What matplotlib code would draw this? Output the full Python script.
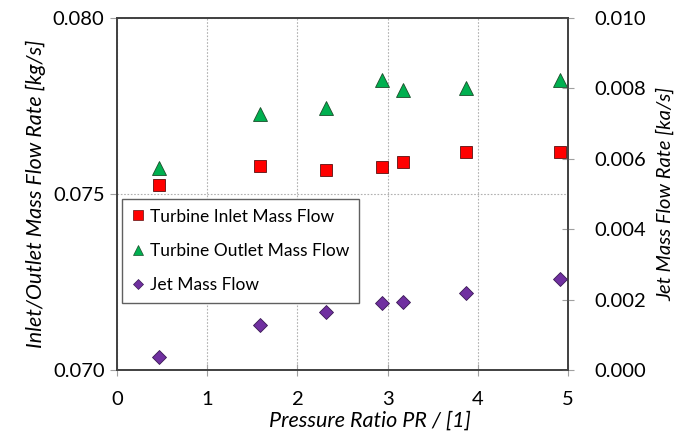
import matplotlib
matplotlib.use("Agg")
import matplotlib.pyplot as plt
from matplotlib.lines import Line2D

plt.rcParams['font.family'] = ['Lato', 'DejaVu Sans']

pr = [0.47, 1.59, 2.32, 2.94, 3.17, 3.87, 4.91]
inlet = [0.07526, 0.07580, 0.07568, 0.07577, 0.07591, 0.07619, 0.07619]
outlet = [0.07574, 0.07727, 0.07744, 0.07824, 0.07795, 0.07801, 0.07824]
jet = [0.00037, 0.00128, 0.00165, 0.00190, 0.00193, 0.00219, 0.00259]

labels = ["Turbine Inlet Mass Flow", "Turbine Outlet Mass Flow", "Jet Mass Flow"]
c_in, c_out, c_jet = "#FF0000", "#00B050", "#7030A0"

fig = plt.figure(figsize=(6.78, 4.34), dpi=100)
ax = fig.add_axes([117/678, 64/434, 451/678, 352/434])
ax2 = ax.twinx()

ax.plot(pr, inlet, linestyle='none', marker='s', markersize=8.5, markerfacecolor=c_in,
        markeredgecolor='#5a1010', markeredgewidth=0.6, zorder=3)
ax.plot(pr, outlet, linestyle='none', marker='^', markersize=9.5, markerfacecolor=c_out,
        markeredgecolor='#1a4d2a', markeredgewidth=0.6, zorder=3)
ax2.plot(pr, jet, linestyle='none', marker='D', markersize=7, markerfacecolor=c_jet,
         markeredgecolor='#3a1a55', markeredgewidth=0.6, zorder=3)

ax.set_xlim(0, 5)
ax.set_ylim(0.070, 0.080)
ax2.set_ylim(0.0, 0.010)
ax.set_xticks([0, 1, 2, 3, 4, 5])
ax.set_yticks([0.070, 0.075, 0.080])
ax.set_yticklabels(["0.070", "0.075", "0.080"])
ax2.set_yticks([0.0, 0.002, 0.004, 0.006, 0.008, 0.010])
ax2.set_yticklabels(["0.000", "0.002", "0.004", "0.006", "0.008", "0.010"])

ax.grid(True, color='#b0b0b0', linestyle=(0, (1.5, 1.5)), linewidth=0.8)
ax.set_axisbelow(True)

for a in (ax, ax2):
    for s in a.spines.values():
        s.set_color('#404040')
        s.set_linewidth(1.2)

ax.tick_params(axis='x', direction='inout', length=8, color='#a0a0a0', pad=11, labelsize=14.5)
ax.tick_params(axis='y', direction='out', length=5, color='#a0a0a0', pad=4, labelsize=14.5)
ax2.tick_params(axis='y', direction='inout', length=8, color='#a0a0a0', pad=15, labelsize=14.5)

ax.set_xlabel("Pressure Ratio PR / [1]", fontstyle='italic', fontsize=15.5, labelpad=1)
ax.xaxis.set_label_coords((370 - 117) / 451, -0.115)
ax.set_ylabel("Inlet/Outlet Mass Flow Rate [kg/s]", fontstyle='italic', fontsize=15.5, labelpad=5)
ax2.set_ylabel("Jet Mass Flow Rate [ka/s]", fontstyle='italic', fontsize=14.5, labelpad=7)

handles = [
    Line2D([], [], linestyle='none', marker='s', markersize=6.5, markerfacecolor=c_in,
           markeredgecolor='#5a1010', markeredgewidth=0.5),
    Line2D([], [], linestyle='none', marker='^', markersize=7, markerfacecolor=c_out,
           markeredgecolor='#1a4d2a', markeredgewidth=0.5),
    Line2D([], [], linestyle='none', marker='D', markersize=5, markerfacecolor=c_jet,
           markeredgecolor='#3a1a55', markeredgewidth=0.5),
]
leg = ax2.legend(handles, labels, loc='upper left', bbox_to_anchor=(5/451, 171/352),
                 borderaxespad=0, fancybox=False, framealpha=1, edgecolor='#606060',
                 fontsize=12.5, labelspacing=1.05, handlelength=0.8, handletextpad=0.25,
                 borderpad=0.55)
leg.get_frame().set_linewidth(1.0)

fig.savefig("out.png", dpi=100)
